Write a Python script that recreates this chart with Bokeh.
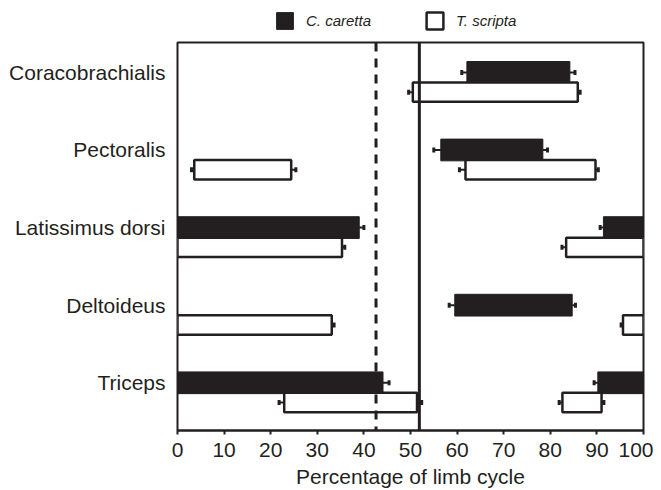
from bokeh.plotting import figure
from bokeh.layouts import column
from bokeh.models import (Range1d, Span, Legend, LegendItem,
                          ColumnDataSource, FixedTicker)
from bokeh.embed import file_html
from bokeh.resources import INLINE
import math

muscles = ["Coracobrachialis", "Pectoralis", "Latissimus dorsi", "Deltoideus", "Triceps"]

# C. caretta activity bars (onset, offset, SE of onset, SE of offset)
caretta_muscle = ["Coracobrachialis", "Pectoralis", "Latissimus dorsi", "Latissimus dorsi",
                  "Deltoideus", "Triceps", "Triceps"]
caretta_start = [62.1, 56.5, 0.0, 91.4, 59.5, 0.0, 90.2]
caretta_end = [84.2, 78.4, 39.0, 100.0, 84.7, 44.1, 100.0]
caretta_start_se = [1.1, 1.5, 0.0, 0.7, 1.2, 0.0, 0.8]
caretta_end_se = [1.1, 1.0, 1.0, 0.0, 0.7, 1.3, 0.0]

# T. scripta activity bars
scripta_muscle = ["Coracobrachialis", "Pectoralis", "Pectoralis", "Latissimus dorsi", "Latissimus dorsi",
                  "Deltoideus", "Deltoideus", "Triceps", "Triceps"]
scripta_start = [50.5, 3.6, 61.8, 0.0, 83.4, 0.0, 95.6, 22.9, 82.6]
scripta_end = [85.9, 24.4, 89.7, 35.3, 100.0, 33.1, 100.0, 51.4, 91.0]
scripta_start_se = [0.9, 0.6, 1.3, 0.0, 0.9, 0.0, 0.4, 1.1, 0.7]
scripta_end_se = [0.5, 1.0, 0.6, 0.6, 0.0, 0.5, 0.0, 1.0, 0.5]

series_labels = ["C. caretta", "T. scripta"]
dashed_line_x = 42.6
solid_line_x = 51.9
x_ticks = [0, 10, 20, 30, 40, 50, 60, 70, 80, 90, 100]

FONT = "Liberation Sans"
BLACK = "#231f20"
OFF_C = 0.115   # vertical offset of C. caretta bars within a muscle row
OFF_S = -0.14   # vertical offset of T. scripta bars

rows = list(reversed(muscles))          # bottom-to-top order


def row_pos(names, off):
    return [rows.index(n) + 0.5 + off for n in names]


# ---- legend strip ----
lf = figure(width=653, height=41, output_backend="svg", toolbar_location=None,
            x_range=Range1d(0, 1), y_range=Range1d(0, 1),
            min_border_left=177, min_border_right=10, min_border_top=0, min_border_bottom=0)
lf.axis.visible = False
lf.grid.visible = False
lf.outline_line_color = None
# undrawn stand-ins (NaN) so that the legend has glyph styles to show
nan = float("nan")
lr_c = lf.hbar(y=[nan], left=[nan], right=[nan], height=0.1, fill_color=BLACK, line_color=BLACK, line_width=1)
lr_s = lf.hbar(y=[nan], left=[nan], right=[nan], height=0.1, fill_color="white", line_color=BLACK, line_width=2.5)
legend = Legend(items=[LegendItem(label=series_labels[0], renderers=[lr_c]),
                       LegendItem(label=series_labels[1], renderers=[lr_s])],
                orientation="horizontal", location=(97, 10),
                padding=0, margin=0, spacing=53, label_standoff=11,
                glyph_width=21, glyph_height=21, label_height=21,
                label_text_font=FONT, label_text_font_size="15px",
                label_text_font_style="italic", label_text_color=BLACK,
                border_line_color=None, background_fill_alpha=0)
lf.add_layout(legend, "center")

# ---- main plot ----
p = figure(width=653, height=449, output_backend="svg", toolbar_location=None,
           x_range=Range1d(0, 100), y_range=Range1d(0, len(rows)),
           min_border_left=177, min_border_right=10, min_border_top=1, min_border_bottom=58)

p.outline_line_color = BLACK
p.outline_line_width = 2
p.grid.visible = False
p.background_fill_color = "white"
p.border_fill_color = "white"

src_c = ColumnDataSource(dict(y=row_pos(caretta_muscle, OFF_C), s=caretta_start, e=caretta_end))
src_s = ColumnDataSource(dict(y=row_pos(scripta_muscle, OFF_S), s=scripta_start, e=scripta_end))

p.hbar(y="y", left="s", right="e", height=0.28,
       source=src_c, fill_color=BLACK, line_color=BLACK, line_width=1)
p.hbar(y="y", left="s", right="e", height=0.25,
       source=src_s, fill_color="white", line_color=BLACK, line_width=2.5)


def whiskers(muscle, start, end, sse, ese, off):
    x0, x1, ys = [], [], []
    for y, s, e, a, b in zip(row_pos(muscle, off), start, end, sse, ese):
        if a > 0:
            x0.append(s); x1.append(s - a); ys.append(y)
        if b > 0:
            x0.append(e); x1.append(e + b); ys.append(y)
    src = ColumnDataSource(dict(x0=x0, x1=x1, y=ys))
    p.segment(x0="x0", x1="x1", y0="y", y1="y", source=src, line_color=BLACK, line_width=2)
    p.scatter(x="x1", y="y", source=src, marker="dash",
              angle=math.pi / 2, size=5, line_color=BLACK, line_width=3)


whiskers(caretta_muscle, caretta_start, caretta_end, caretta_start_se, caretta_end_se, OFF_C)
whiskers(scripta_muscle, scripta_start, scripta_end, scripta_start_se, scripta_end_se, OFF_S)

p.add_layout(Span(location=dashed_line_x, dimension="height", line_color=BLACK,
                  line_width=3, line_dash="9 7"))
p.add_layout(Span(location=solid_line_x, dimension="height", line_color=BLACK, line_width=3))

# x axis
p.xaxis.ticker = FixedTicker(ticks=x_ticks)
p.xaxis.axis_label = "Percentage of limb cycle"
p.xaxis.axis_label_text_font = FONT
p.xaxis.axis_label_text_font_size = "21px"
p.xaxis.axis_label_text_font_style = "normal"
p.xaxis.axis_label_text_color = BLACK
p.xaxis.axis_label_standoff = 5
p.xaxis.major_label_text_font = FONT
p.xaxis.major_label_text_font_size = "21px"
p.xaxis.major_label_text_color = BLACK
p.xaxis.axis_line_color = BLACK
p.xaxis.axis_line_width = 2
p.xaxis.major_tick_line_color = BLACK
p.xaxis.major_tick_line_width = 2
p.xaxis.major_tick_in = 0
p.xaxis.major_tick_out = 4
p.xaxis.minor_tick_line_color = None
p.xaxis.major_label_standoff = 8

# y axis: muscle names level with the C. caretta bars
tick_pos = row_pos(rows, OFF_C)
p.yaxis.ticker = FixedTicker(ticks=tick_pos)
p.yaxis.major_label_overrides = {t: name for t, name in zip(tick_pos, rows)}
p.yaxis.major_label_text_font = FONT
p.yaxis.major_label_text_font_size = "21px"
p.yaxis.major_label_text_color = BLACK
p.yaxis.axis_line_color = None
p.yaxis.major_tick_line_color = None
p.yaxis.minor_tick_line_color = None
p.yaxis.major_label_standoff = 6

open("out.html", "w").write(file_html(column(lf, p, spacing=0), INLINE))
